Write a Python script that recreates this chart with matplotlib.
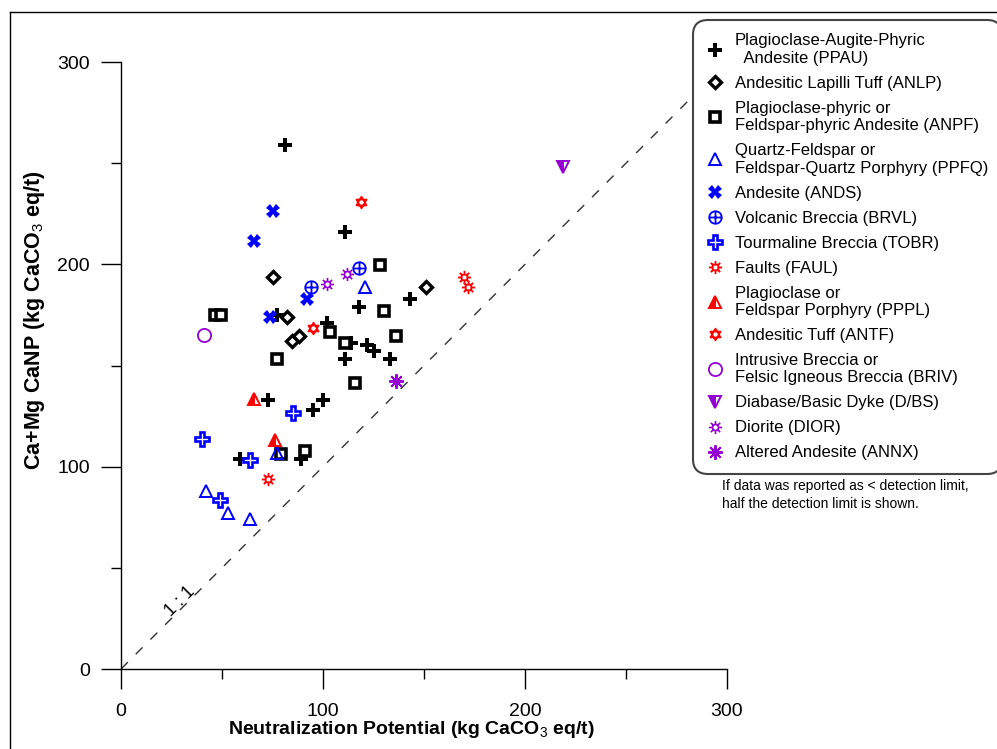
import numpy as np
import matplotlib.pyplot as plt
from matplotlib.path import Path
from matplotlib.lines import Line2D

plt.rcParams['font.family'] = ['Liberation Sans', 'DejaVu Sans']
plt.rcParams['mathtext.fontset'] = 'custom'
plt.rcParams['mathtext.rm'] = 'Liberation Sans'
plt.rcParams['mathtext.bf'] = 'Liberation Sans:bold'

# NP (x) and Ca+Mg CaNP (y), both in kg CaCO3 eq/t, per rock type
ppau_np = [81, 111, 118, 143, 77, 102, 114, 122, 125, 111, 133, 73, 100, 95, 59, 89]
ppau_canp = [259, 216, 179, 183, 175, 171, 161, 160, 157, 153, 153, 133, 133, 128, 104, 104]

anlp_np = [75, 82, 151, 84.5, 88]
anlp_canp = [193.5, 174, 189, 162, 164.5]

anpf_np = [46.5, 49.5, 128, 130, 103.5, 136, 111, 77, 116, 79, 91]
anpf_canp = [175, 175, 199.5, 177, 166.5, 164.5, 161, 153, 141.5, 106.5, 107.5]

ppfq_np = [121, 42, 53, 64, 77]
ppfq_canp = [189, 88, 77, 74, 107]

ands_np = [75, 66, 92, 74]
ands_canp = [226.5, 211.5, 183, 174]

brvl_np = [118, 94]
brvl_canp = [198, 189]

tobr_np = [40, 85, 64, 49]
tobr_canp = [113.5, 126.5, 103.5, 83.5]

faul_np = [73, 170, 172]
faul_canp = [94, 193.5, 189]

pppl_np = [66, 76]
pppl_canp = [133.5, 113]

antf_np = [119, 95]
antf_canp = [231, 168.5]

briv_np = [41]
briv_canp = [165]

dbs_np = [219]
dbs_canp = [248]

dior_np = [102, 112]
dior_canp = [190.5, 195]

annx_np = [136]
annx_canp = [142.5]

labels = [
    'Plagioclase-Augite-Phyric\n  Andesite (PPAU)',
    'Andesitic Lapilli Tuff (ANLP)',
    'Plagioclase-phyric or\nFeldspar-phyric Andesite (ANPF)',
    'Quartz-Feldspar or\nFeldspar-Quartz Porphyry (PPFQ)',
    'Andesite (ANDS)',
    'Volcanic Breccia (BRVL)',
    'Tourmaline Breccia (TOBR)',
    'Faults (FAUL)',
    'Plagioclase or\nFeldspar Porphyry (PPPL)',
    'Andesitic Tuff (ANTF)',
    'Intrusive Breccia or\nFelsic Igneous Breccia (BRIV)',
    'Diabase/Basic Dyke (D/BS)',
    'Diorite (DIOR)',
    'Altered Andesite (ANNX)',
]


def seg(a, b):
    return Path([a, b], [Path.MOVETO, Path.LINETO])


def spokes(r0, n=8):
    out = []
    for k in range(n):
        a = 2 * np.pi * k / n
        out.append(seg((r0 * np.cos(a), r0 * np.sin(a)), (np.cos(a), np.sin(a))))
    return out


circle_plus = Path.make_compound_path(
    Path.unit_circle(), seg((-1, 0), (1, 0)), seg((0, -1), (0, 1)))

tri = np.array([[0, 1], [-0.866, -0.5], [0.866, -0.5], [0, 1]])
star_david = Path.make_compound_path(Path(tri, closed=True),
                                     Path(tri * [1, -1], closed=True))

sq = 0.42
box = Path([[-sq, -sq], [sq, -sq], [sq, sq], [-sq, sq], [-sq, -sq]], closed=True)
fault_mark = Path.make_compound_path(box, *spokes(0.42))

sun = Path.make_compound_path(
    Path(Path.unit_circle().vertices * 0.45, Path.unit_circle().codes),
    *spokes(0.45))

BLUE = '#0000FF'
RED = '#FF0000'
PURPLE = '#9400D3'

series = [
    (ppau_np, ppau_canp, dict(marker='P', ms=10, color='black', mew=0)),
    (anlp_np, anlp_canp, dict(marker='D', ms=6, mfc='white', mec='black', mew=2.4)),
    (anpf_np, anpf_canp, dict(marker='s', ms=6.5, mfc='white', mec='black', mew=2.6)),
    (ppfq_np, ppfq_canp, dict(marker='^', ms=8.5, mfc='none', mec=BLUE, mew=1.4)),
    (ands_np, ands_canp, dict(marker='X', ms=10, color=BLUE, mew=0)),
    (brvl_np, brvl_canp, dict(marker=circle_plus, ms=9, mfc='none', mec=BLUE, mew=1.3)),
    (tobr_np, tobr_canp, dict(marker='P', ms=9.5, mfc='white', mec=BLUE, mew=1.9)),
    (faul_np, faul_canp, dict(marker=fault_mark, ms=9.5, mfc='none', mec=RED, mew=1.3)),
    (pppl_np, pppl_canp, dict(marker='^', ms=9, fillstyle='left', mfc=RED,
                              mfcalt='white', mec=RED, mew=1.4)),
    (antf_np, antf_canp, dict(marker=star_david, ms=8.5, mfc='none', mec=RED, mew=1.2)),
    (briv_np, briv_canp, dict(marker='o', ms=9.5, mfc='none', mec=PURPLE, mew=1.3)),
    (dbs_np, dbs_canp, dict(marker='v', ms=9, fillstyle='left', mfc=PURPLE,
                            mfcalt='white', mec=PURPLE, mew=1.4)),
    (dior_np, dior_canp, dict(marker=sun, ms=9.5, mfc='none', mec=PURPLE, mew=1.2)),
    (annx_np, annx_canp, dict(marker=(8, 2, 0), ms=10.5, color=PURPLE, mew=1.4)),
]

fig = plt.figure(figsize=(9.97, 7.49), dpi=100)
ax = fig.add_axes([121 / 997, 1 - 669 / 749, 606 / 997, 607 / 749])

# 1:1 reference line
ax.plot([0, 300], [0, 300], color='#333333', lw=1, dashes=(7, 8), zorder=1)
ax.text(29.5, 33.5, '1 : 1', rotation=45, fontsize=13, ha='center', va='center')

handles = []
for (xs, ys, st), lab in zip(series, labels):
    h, = ax.plot(xs, ys, linestyle='none', label=lab, zorder=3, **st)
    handles.append(h)

ax.set_xlim(0, 300)
ax.set_ylim(0, 300)
ax.set_xticks([0, 100, 200, 300])
ax.set_yticks([0, 100, 200, 300])
ax.set_xticks([50, 150, 250], minor=True)
ax.set_yticks([50, 150, 250], minor=True)
ax.tick_params(which='major', direction='out', length=14.5, width=1, labelsize=14, pad=8)
ax.tick_params(which='minor', direction='out', length=7, width=1)
ax.tick_params(axis='x', which='major', pad=10)
for s in ['top', 'right']:
    ax.spines[s].set_visible(False)
for s in ['left', 'bottom']:
    ax.spines[s].set_linewidth(1)

ax.set_xlabel('Neutralization Potential (kg CaCO$_3$ eq/t)', fontsize=14,
              fontweight='bold')
ax.xaxis.set_label_coords(0.479, -0.082)
ax.set_ylabel('Ca+Mg CaNP (kg CaCO$_3$ eq/t)', fontsize=15.5, fontweight='bold')
ax.yaxis.set_label_coords(-0.122, 0.575)

leg = fig.legend(handles=handles, loc='upper left',
                 bbox_to_anchor=(693 / 997, 1 - 20 / 749),
                 bbox_transform=fig.transFigure, fontsize=12, numpoints=1,
                 handlelength=1.0, handletextpad=0.72, borderpad=0.8,
                 labelspacing=0.6, borderaxespad=0, frameon=True, fancybox=True,
                 framealpha=1)
frame = leg.get_frame()
frame.set_boxstyle('round', pad=0, rounding_size=0.9)
frame.set_edgecolor('#444444')
frame.set_linewidth(1.5)

fig.text(722 / 997, 1 - 479 / 749,
         'If data was reported as < detection limit,\nhalf the detection limit is shown.',
         fontsize=10, ha='left', va='top', linespacing=1.35)

# page frame
fig.add_artist(Line2D([10 / 997, 10 / 997], [0, 1 - 12 / 749],
                      transform=fig.transFigure, color='black', lw=1))
fig.add_artist(Line2D([10 / 997, 1], [1 - 12 / 749, 1 - 12 / 749],
                      transform=fig.transFigure, color='black', lw=1))

fig.savefig('out.png', dpi=100)
